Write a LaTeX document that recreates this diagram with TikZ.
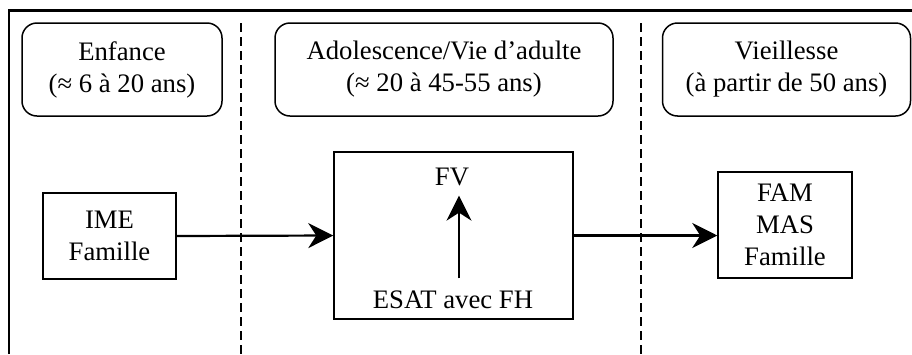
\documentclass[tikz,border=0pt]{standalone}
\usepackage{fontspec}
\setmainfont{Liberation Serif}
\newfontfamily\tnr{Liberation Serif}
\usetikzlibrary{arrows.meta,calc}

\begin{document}
\begin{tikzpicture}[x=1pt,y=-1pt,
  lbl/.style={font=\tnr\fontsize{26.7}{32}\selectfont, align=center, inner sep=0pt},
  phase/.style={lbl, draw, line width=1.5pt, rounded corners=15pt},
  place/.style={lbl, draw, line width=1.5pt},
  divider/.style={line width=2.2pt, dash pattern=on 9pt off 5pt},
  arr/.style={line width=2.2pt, -{Stealth[length=25pt,width=25pt,inset=8pt]}}
]
\useasboundingbox (0,0) rectangle (912,354);

% frame: left and top edges
\draw[line width=2.2pt] (9,354) -- (9,10.5) -- (912,10.5);

% separators between the life stages
\coordinate (d1t) at (241,23);  \coordinate (d1b) at (241,354);
\coordinate (d2t) at (641,23);  \coordinate (d2b) at (641,354);
\draw[divider] (d1t) -- (d1b);
\draw[divider] (d2t) -- (d2b);

% life stage headings
\node[phase, minimum width=200pt, minimum height=93pt] (enf) at (122,69.5)
  {Enfance\\(≈ 6 à 20 ans)};
\node[phase, minimum width=338pt, minimum height=93pt] (adu) at (444,69.5)
  {Adolescence/Vie d’adulte\\(≈ 20 à 45-55 ans)};
\node[phase, minimum width=248pt, minimum height=93pt] (vie) at (786.5,69.5)
  {Vieillesse\\(à partir de 50 ans)};

% places of living
\node[place, minimum width=133pt, minimum height=86pt] (ime) at (109.5,236)
  {IME\\Famille};
\node[place, minimum width=239pt, minimum height=167pt] (mid) at (453.5,235.5) {};
\node[place, minimum width=134pt, minimum height=106pt] (fam) at (785,225)
  {FAM\\MAS\\Famille};

\node[lbl] (fv) at (452,176.5) {FV};
\node[lbl] (esat) at (453,299.5) {ESAT avec FH};

% transitions
\draw[arr] (ime.east) -- (mid.west);
\draw[arr] (mid.east) -- (mid.east -| fam.west);
\draw[arr] ([xshift=6pt,yshift=12pt]esat.north) -- ([xshift=7pt,yshift=-10pt]fv.south);
\end{tikzpicture}
\end{document}
